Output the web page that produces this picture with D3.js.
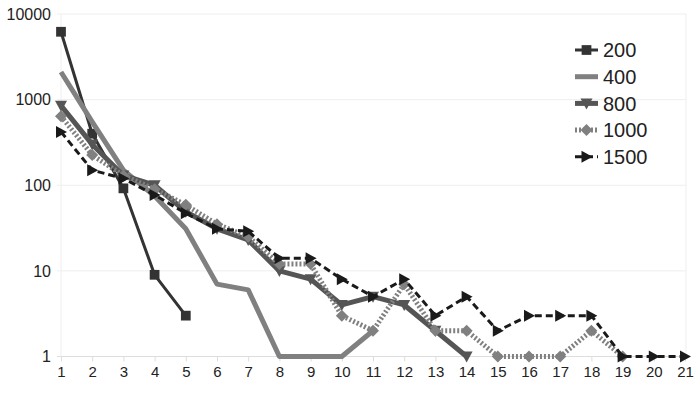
<!DOCTYPE html>
<html>
<head>
<meta charset="utf-8">
<script src="https://cdn.jsdelivr.net/npm/d3@7"></script>
<style>
  body { margin: 0; background: #fff; }
  svg { font-family: "Liberation Sans", Arial, sans-serif; }
</style>
</head>
<body>
<svg id="chart" width="700" height="394"></svg>
<script>
// chart data
const categories = d3.range(1, 22);
const yTicks = [1, 10, 100, 1000, 10000];
const s200 = [6200, 400, 92, 9, 3];
const s400 = [2100, 550, 150, 75, 31, 7, 6, 1, 1, 1, 2];
const s800 = [850, 300, 130, 100, 49, 31, 23, 10, 8, 4, 5, 4, 2, 1];
const s1000 = [640, 225, 130, 90, 59, 35, 25, 12, 12, 3, 2, 7, 2, 2, 1, 1, 1, 2, 1];
const s1500 = [420, 150, 120, 77, 47, 31, 29, 14, 14, 8, 5, 8, 3, 5, 2, 3, 3, 3, 1, 1, 1];

const series = [
  { name: "200",  values: s200,  color: "#333333", width: 3, dash: null,  marker: "square" },
  { name: "400",  values: s400,  color: "#808080", width: 5, dash: null,  marker: null },
  { name: "800",  values: s800,  color: "#555555", width: 5, dash: null,  marker: "down" },
  { name: "1000", values: s1000, color: "#808080", width: 5, dash: "2,2", marker: "diamond" },
  { name: "1500", values: s1500, color: "#1a1a1a", width: 3, dash: "7,4", marker: "right" }
];

const svg = d3.select("#chart");

const x = d3.scaleLinear().domain([1, 21]).range([61, 685]);
const y = d3.scaleLog().domain([1, 10000]).range([356.5, 14]);

// grid
svg.append("g")
   .selectAll("line")
   .data(yTicks)
   .join("line")
   .attr("x1", x(1) - 4).attr("x2", x(21) + 1)
   .attr("y1", d => y(d)).attr("y2", d => y(d))
   .attr("stroke", d => d === 1 ? "#dddddd" : "#eeeeee")
   .attr("stroke-width", 1);

svg.append("line")
   .attr("x1", x(1)).attr("x2", x(1))
   .attr("y1", y(10000)).attr("y2", y(1))
   .attr("stroke", "#eeeeee");
svg.append("line")
   .attr("x1", x(21) + 1).attr("x2", x(21) + 1)
   .attr("y1", y(10000)).attr("y2", y(1))
   .attr("stroke", "#eeeeee");

// x axis
const xAxis = svg.append("g")
   .attr("transform", `translate(0,${y(1)})`)
   .call(d3.axisBottom(x).tickValues(categories).tickFormat(d3.format("d")).tickSize(5).tickPadding(5));
xAxis.select(".domain").remove();
xAxis.selectAll("line").attr("stroke", "#dddddd");
xAxis.selectAll("text")
     .attr("fill", "#222").style("font-size", "15px")
     .style("font-family", "'Liberation Sans', Arial, sans-serif");

// y axis
const yAxis = svg.append("g")
   .attr("transform", `translate(${x(1)},0)`)
   .call(d3.axisLeft(y).tickValues(yTicks).tickFormat(d3.format("d")).tickSize(0).tickPadding(10));
yAxis.select(".domain").remove();
yAxis.selectAll("text")
     .attr("fill", "#222").style("font-size", "16px")
     .style("font-family", "'Liberation Sans', Arial, sans-serif");

const line = d3.line()
   .x((d, i) => x(i + 1))
   .y(d => y(d));

const markerPath = {
  square: d3.symbol(d3.symbolSquare, 95)(),
  diamond: "M0,-6L6,0L0,6L-6,0Z",
  down: "M-6,-5L6,-5L0,6Z",
  right: "M-5,-6L-5,6L6,0Z"
};

const plot = svg.append("g");
series.forEach(s => {
  plot.append("path")
      .datum(s.values)
      .attr("fill", "none")
      .attr("stroke", s.color)
      .attr("stroke-width", s.width)
      .attr("stroke-dasharray", s.dash)
      .attr("stroke-linejoin", "round")
      .attr("d", line);
  if (s.marker) {
    plot.append("g")
        .selectAll("path")
        .data(s.values)
        .join("path")
        .attr("transform", (d, i) => `translate(${x(i + 1)},${y(d)})`)
        .attr("d", markerPath[s.marker])
        .attr("fill", s.color);
  }
});

// legend
const legend = svg.append("g")
   .attr("transform", "translate(575,50)")
   .selectAll("g")
   .data(series)
   .join("g")
   .attr("transform", (d, i) => `translate(0,${i * 26.7})`);

legend.append("line")
      .attr("x1", 0).attr("x2", 23)
      .attr("stroke", d => d.color)
      .attr("stroke-width", d => d.width)
      .attr("stroke-dasharray", d => d.dash);
legend.filter(d => d.marker)
      .append("path")
      .attr("transform", "translate(11.5,0)")
      .attr("d", d => markerPath[d.marker])
      .attr("fill", d => d.color);
legend.append("text")
      .attr("x", 28)
      .attr("dy", "0.36em")
      .attr("fill", "#222")
      .style("font-size", "20px")
      .text(d => d.name);
</script>
</body>
</html>
